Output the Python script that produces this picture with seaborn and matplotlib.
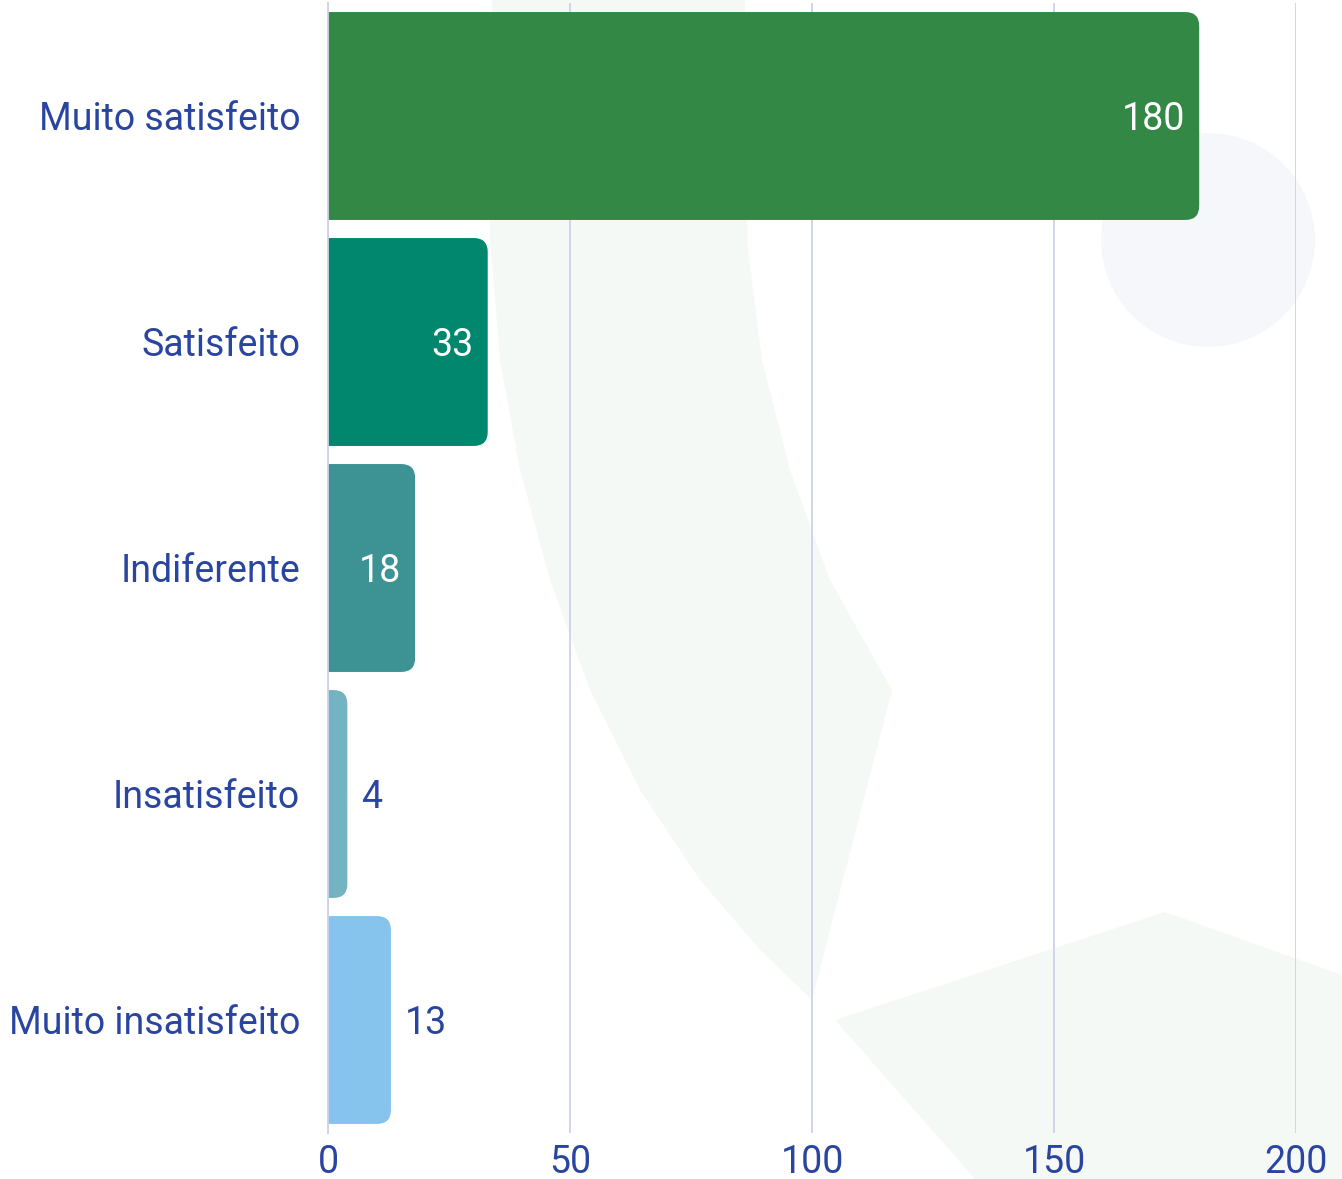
import matplotlib
matplotlib.use("Agg")
import matplotlib.pyplot as plt
import seaborn as sns
import pandas as pd
from matplotlib.patches import FancyBboxPatch, Polygon, Circle

categories = ["Muito satisfeito", "Satisfeito", "Indiferente", "Insatisfeito", "Muito insatisfeito"]
values = [180, 33, 18, 4, 13]
colors = ["#338845", "#01876e", "#3d9393", "#74b3c1", "#86c4ee"]
xticks = [0, 50, 100, 150, 200]

TEXT = "#2a45a0"
FONT = ["Roboto", "DejaVu Sans"]
FS = 27

sns.set_theme(style="white")
plt.rcParams["font.family"] = FONT

W, H = 1342, 1179
fig = plt.figure(figsize=(W / 100, H / 100), dpi=100)

# faint background decoration
bg = fig.add_axes([0, 0, 1, 1], zorder=0)
bg.set_xlim(0, W)
bg.set_ylim(H, 0)
bg.axis("off")
crescent = [(492, 0), (488, 120), (490, 240), (500, 360), (520, 470), (550, 580),
            (590, 690), (640, 790), (700, 880), (760, 950), (812, 1000),
            (892, 690), (830, 580), (790, 470), (762, 360), (748, 250), (744, 120), (745, 0)]
bg.add_patch(Polygon(crescent, closed=True, facecolor="#f5f9f6", edgecolor="none"))
lower = [(835, 1020), (1165, 912), (1342, 975), (1342, 1179), (975, 1179)]
bg.add_patch(Polygon(lower, closed=True, facecolor="#f5f9f6", edgecolor="none"))
bg.add_patch(Circle((1208, 240), 107, facecolor="#f6f7fb", edgecolor="none"))

left, right = 328 / W, 1296 / W
top, bottom = 3 / H, 1133 / H
ax = fig.add_axes([left, 1 - bottom, right - left, bottom - top], zorder=1)
ax.patch.set_alpha(0)

df = pd.DataFrame({"categoria": categories, "valor": values})
sns.barplot(data=df, y="categoria", x="valor", hue="categoria", palette=colors,
            orient="h", width=0.92, legend=False, ax=ax, saturation=1)

ax.set_xlim(0, 200)
ax.set_ylim(len(categories) - 0.5, -0.5)
ax.set_xticks(xticks)
ax.set_xticklabels([str(t) for t in xticks])
ax.set_xlabel("")
ax.set_ylabel("")
ax.grid(axis="x", color="#cdd2ea", linewidth=1.3)
ax.grid(axis="y", visible=False)
ax.set_axisbelow(True)
for s in ["top", "right", "bottom"]:
    ax.spines[s].set_visible(False)
ax.spines["left"].set_color("#cdd2ea")
ax.spines["left"].set_linewidth(1.3)
ax.tick_params(axis="x", length=0, pad=8, labelsize=FS, labelcolor=TEXT)
ax.tick_params(axis="y", length=0, pad=20, labelsize=FS, labelcolor=TEXT)
for lbl in ax.get_yticklabels():
    lbl.set_verticalalignment("center_baseline")

# rounded right corners
ax_w_px = (right - left) * W
ax_h_px = (bottom - top) * H
xpp = 200 / ax_w_px
ypp = len(categories) / ax_h_px
aspect = ypp / xpp
r = 14 * xpp
bars = list(ax.patches)
for p in bars:
    x0, y0 = p.get_x(), p.get_y()
    w, h = p.get_width(), p.get_height()
    fc = p.get_facecolor()
    p.remove()
    fb = FancyBboxPatch((x0 - 3 * r, y0), w + 3 * r, h,
                        boxstyle=f"round,pad=0,rounding_size={r}",
                        mutation_aspect=aspect, facecolor=fc, edgecolor="none",
                        zorder=2)
    ax.add_patch(fb)

for i, v in enumerate(values):
    if v > 15:
        ax.annotate(str(v), xy=(v, i), xytext=(-10, 0), textcoords="offset points",
                    ha="right", va="center_baseline", color="white", fontsize=FS, zorder=3)
    else:
        ax.annotate(str(v), xy=(v, i), xytext=(10, 0), textcoords="offset points",
                    ha="left", va="center_baseline", color=TEXT, fontsize=FS, zorder=3)

fig.savefig("out.png", dpi=100)
